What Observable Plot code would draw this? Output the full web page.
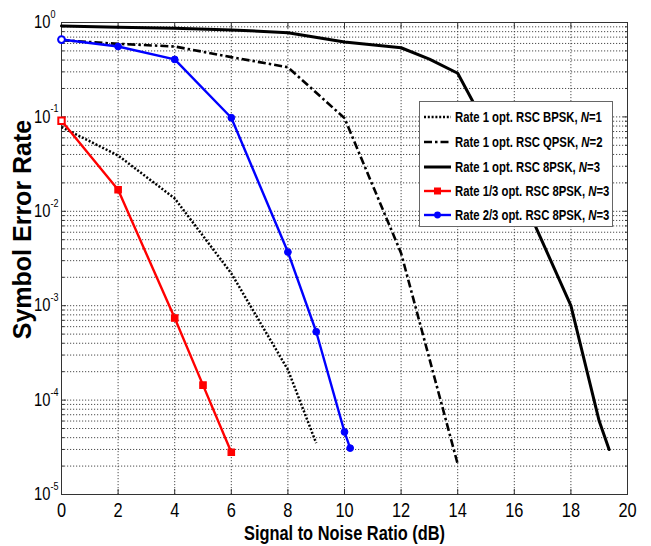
<!DOCTYPE html>
<html><head><meta charset="utf-8">
<script src="https://cdn.jsdelivr.net/npm/d3@7"></script>
<script src="https://cdn.jsdelivr.net/npm/@observablehq/plot@0.6"></script>
<style>
body{margin:0;background:#fff;}
#wrap{position:relative;width:651px;height:546px;font-family:"Liberation Sans",Arial,sans-serif;}
#legend{position:absolute;left:419px;top:101px;width:192px;height:124px;background:#fff;border:1px solid #666;box-sizing:content-box;overflow:hidden;}
.row{position:absolute;left:0;height:20px;display:flex;align-items:center;white-space:nowrap;}
.row svg{margin-left:3px;margin-right:3px;flex:none;}
.row span{display:inline-block;font-weight:bold;font-size:13.8px;color:#000;transform:scaleX(0.82);transform-origin:left center;}
</style>
</head><body>
<div id="wrap"></div>
<script>
const FONT = '"Liberation Sans",Arial,sans-serif';

// ---- data ----
const snrBPSK = [0, 2, 4, 6, 8, 9];
const serBPSK = [0.078, 0.039, 0.0137, 0.0022, 2.1e-4, 3.5e-5];

const snrQPSK = [0, 2, 4, 6, 8, 10, 12, 14];
const serQPSK = [0.65, 0.594, 0.557, 0.43, 0.336, 0.097, 0.0036, 2.1e-5];

const snr8PSK = [0, 2, 4, 6, 8, 10, 12, 13, 14, 16, 18, 19, 19.35];
const ser8PSK = [0.92, 0.89, 0.87, 0.835, 0.78, 0.62, 0.54, 0.41, 0.29, 0.022, 1.0e-3, 6e-5, 3e-5];

const snrR13 = [0, 2, 4, 5, 6];
const serR13 = [0.091, 0.0169, 7.4e-4, 1.44e-4, 2.8e-5];

const snrR23 = [0, 2, 4, 6, 8, 9, 10, 10.2];
const serR23 = [0.66, 0.557, 0.406, 0.098, 0.0037, 5.3e-4, 4.6e-5, 3.1e-5];

const xTicks = [0, 2, 4, 6, 8, 10, 12, 14, 16, 18, 20];
const decades = [0, -1, -2, -3, -4, -5];

const legendNames = [
  'Rate 1 opt. RSC BPSK, <i>N</i>=1',
  'Rate 1 opt. RSC QPSK, <i>N</i>=2',
  'Rate 1 opt. RSC 8PSK, <i>N</i>=3',
  'Rate 1/3 opt. RSC 8PSK, <i>N</i>=3',
  'Rate 2/3 opt. RSC 8PSK, <i>N</i>=3'
];
const seriesColors = ["#000", "#000", "#000", "#ff0000", "#0000ff"];
const seriesDash = ["2,1.8", "8,3,2.5,3", null, null, null];
const seriesWidth = [2.5, 2.6, 3, 2.4, 2.4];

// ---- build tables ----
const tbl = (xs, ys) => xs.map((x, i) => ({x, y: ys[i]}));
const dBPSK = tbl(snrBPSK, serBPSK);
const dQPSK = tbl(snrQPSK, serQPSK);
const d8PSK = tbl(snr8PSK, ser8PSK);
const dR13 = tbl(snrR13, serR13);
const dR23 = tbl(snrR23, serR23);

const minor = [];
for (let d = -5; d < 0; d++) for (let k = 2; k <= 9; k++) minor.push(k * Math.pow(10, d));
const major = decades.map(d => Math.pow(10, d));

const gridStyle = {stroke: "#3a3a3a", strokeOpacity: 0.9, strokeDasharray: "1.2,1.8", strokeWidth: 1};
const NARROW = {ariaLabel: () => "narrow", ariaDescription: "narrow"};

const plot = Plot.plot({
  width: 651, height: 546,
  marginLeft: 61, marginRight: 24, marginTop: 22, marginBottom: 52,
  style: {fontFamily: FONT, background: "white", color: "black", overflow: "visible"},
  x: {domain: [0, 20]},
  y: {type: "log", domain: [1e-5, 1]},
  marks: [
    Plot.gridY([...major.slice(1, -1), ...minor], gridStyle),
    Plot.gridX(xTicks.slice(1, -1), gridStyle),
    // inward tick marks
    Plot.axisX(xTicks, {anchor: "bottom", tickSize: -5, tickFormat: () => "", label: null, stroke: "#333"}),
    Plot.axisX(xTicks, {anchor: "top", tickSize: -5, tickFormat: () => "", label: null, stroke: "#333"}),
    Plot.axisY(major, {anchor: "left", tickSize: -5, tickFormat: () => "", label: null, stroke: "#333"}),
    Plot.axisY(major, {anchor: "right", tickSize: -5, tickFormat: () => "", label: null, stroke: "#333"}),
    Plot.axisY(minor, {anchor: "left", tickSize: -3, tickFormat: () => "", label: null, stroke: "#333"}),
    Plot.axisY(minor, {anchor: "right", tickSize: -3, tickFormat: () => "", label: null, stroke: "#333"}),
    // x tick labels
    Plot.text(xTicks, {x: d => d, frameAnchor: "bottom", text: d => String(d), dy: 16, lineAnchor: "middle", fontSize: 20, ...NARROW}),
    // y tick labels 10^n
    Plot.text(decades, {y: d => Math.pow(10, d), frameAnchor: "left", text: () => "10", textAnchor: "end", dx: -11, fontSize: 18, ...NARROW}),
    Plot.text(decades, {y: d => Math.pow(10, d), frameAnchor: "left", text: d => String(d), textAnchor: "start", dx: -11, dy: -8, fontSize: 11, ...NARROW}),
    // axis titles
    Plot.text(["Signal to Noise Ratio (dB)"], {frameAnchor: "bottom", dy: 39, lineAnchor: "middle", fontSize: 20, fontWeight: "bold", ...NARROW}),
    Plot.text(["Symbol Error Rate"], {frameAnchor: "left", textAnchor: "middle", lineAnchor: "middle", rotate: -90, dx: -39, dy: -29, fontSize: 25, fontWeight: "bold"}),
    Plot.frame({stroke: "#333", strokeWidth: 1}),
    // curves
    Plot.line(dBPSK, {x: "x", y: "y", stroke: seriesColors[0], strokeWidth: seriesWidth[0], strokeDasharray: seriesDash[0], strokeLinecap: "butt", strokeLinejoin: "miter"}),
    Plot.line(dQPSK, {x: "x", y: "y", stroke: seriesColors[1], strokeWidth: seriesWidth[1], strokeDasharray: seriesDash[1], strokeLinecap: "butt", strokeLinejoin: "miter"}),
    Plot.line(d8PSK, {x: "x", y: "y", stroke: seriesColors[2], strokeWidth: seriesWidth[2]}),
    Plot.line(dR13, {x: "x", y: "y", stroke: seriesColors[3], strokeWidth: seriesWidth[3]}),
    Plot.dot(dR13, {x: "x", y: "y", symbol: "square", r: 3.6, fill: seriesColors[3], stroke: seriesColors[3], strokeWidth: 1.2, filter: (d, i) => i > 0}),
    Plot.dot(dR13, {x: "x", y: "y", symbol: "square", r: 3.6, fill: "white", stroke: seriesColors[3], strokeWidth: 2, filter: (d, i) => i === 0}),
    Plot.line(dR23, {x: "x", y: "y", stroke: seriesColors[4], strokeWidth: seriesWidth[4]}),
    Plot.dot(dR23, {x: "x", y: "y", r: 3.4, fill: seriesColors[4], stroke: seriesColors[4], strokeWidth: 1, filter: (d, i) => i > 0}),
    Plot.dot(dR23, {x: "x", y: "y", r: 3.4, fill: "white", stroke: seriesColors[4], strokeWidth: 2, filter: (d, i) => i === 0})
  ]
});

// condensed look for the narrow texts
const narrowTexts = new Set();
plot.querySelectorAll('[aria-label="narrow"], [aria-description="narrow"]').forEach(el => {
  if (el.tagName.toLowerCase() === "text") narrowTexts.add(el);
  else el.querySelectorAll("text").forEach(t => narrowTexts.add(t));
});
narrowTexts.forEach(t => {
  let tr = t.getAttribute("transform");
  if (!tr) {
    const x = t.getAttribute("x") || 0, y = t.getAttribute("y") || 0;
    t.removeAttribute("x"); t.removeAttribute("y");
    tr = `translate(${x},${y})`;
  }
  t.setAttribute("transform", tr + " scale(0.82,1)");
});

const wrap = document.getElementById("wrap");
wrap.appendChild(plot);

// ---- legend ----
const leg = document.createElement("div");
leg.id = "legend";
const rowY = [15, 40, 65, 89, 113];
legendNames.forEach((name, i) => {
  const row = document.createElement("div");
  row.className = "row";
  row.style.top = (rowY[i] - 10) + "px";
  const dash = seriesDash[i] ? `stroke-dasharray="${seriesDash[i]}"` : "";
  let marker = "";
  if (i === 3) marker = `<rect x="11" y="6.5" width="7" height="7" fill="${seriesColors[i]}"/>`;
  if (i === 4) marker = `<circle cx="14.5" cy="10" r="3.4" fill="${seriesColors[i]}"/>`;
  row.innerHTML = `<svg width="29" height="20"><line x1="1" x2="28" y1="10" y2="10" stroke="${seriesColors[i]}" stroke-width="${seriesWidth[i]}" ${dash}/>${marker}</svg><span>${name}</span>`;
  leg.appendChild(row);
});
wrap.appendChild(leg);
</script>
</body></html>
